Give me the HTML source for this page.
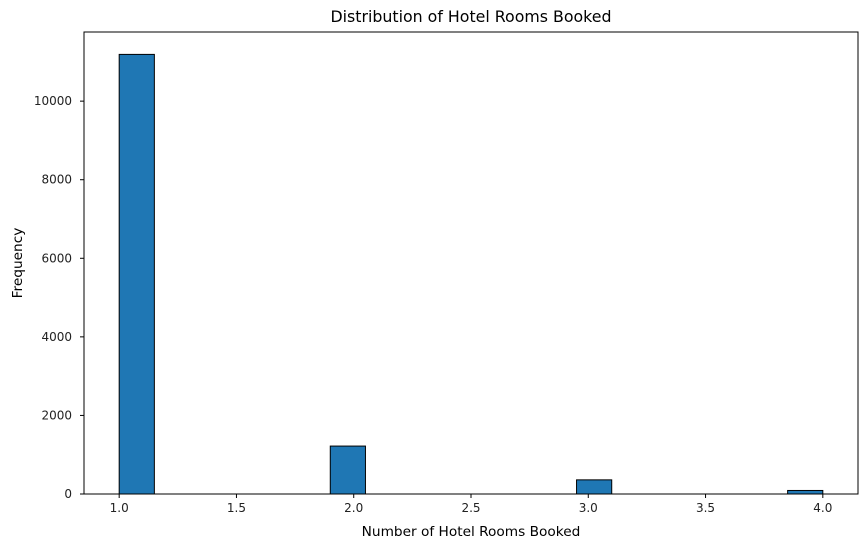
<!DOCTYPE html>
<html><head><meta charset="utf-8"><style>
html,body{margin:0;padding:0;background:#fff;}
svg{display:block;font-family:"DejaVu Sans","Liberation Sans",sans-serif;}
</style></head><body>
<svg id="chart" width="868" height="547"></svg>
<script>
const binEdgesStart = [1.0, 1.9, 2.95, 3.85];
const binWidth = 0.15;
const counts = [11190, 1220, 360, 90];
const xTicks = [1.0, 1.5, 2.0, 2.5, 3.0, 3.5, 4.0];
const yTicks = [0, 2000, 4000, 6000, 8000, 10000];

const L = 84, R = 858, T = 32, B = 494;
const xMin = 0.85, xMax = 4.15, yMax = 11760;
const sx = v => L + (v - xMin) / (xMax - xMin) * (R - L);
const sy = v => B - v / yMax * (B - T);
const svg = document.getElementById('chart');
const NS = 'http://www.w3.org/2000/svg';
function mk(tag, attrs, text) {
  const e = document.createElementNS(NS, tag);
  for (const k in attrs) e.setAttribute(k, attrs[k]);
  if (text !== undefined) e.textContent = text;
  svg.appendChild(e);
  return e;
}
counts.forEach((c, i) => {
  const x0 = sx(binEdgesStart[i]), x1 = sx(binEdgesStart[i] + binWidth);
  const r = mk('rect', {x: x0, y: sy(c), width: x1 - x0, height: B - sy(c), fill: '#1f77b4', stroke: '#000', 'stroke-width': 1});
  
  
});
xTicks.forEach(t => {
  const x = sx(t);
  const l = mk('line', {x1: x, x2: x, y1: B, y2: B + 4, stroke: '#000', 'stroke-width': 1});
  
  
  const tx = mk('text', {x: x, y: B + 18, 'text-anchor': 'middle', 'font-size': 12, fill: '#222'}, t.toFixed(1));
  
  
});
yTicks.forEach(t => {
  const y = sy(t);
  const l = mk('line', {x1: L - 4, x2: L, y1: y, y2: y, stroke: '#000', 'stroke-width': 1});
  
  
  const tx = mk('text', {x: L - 12, y: y + 4, 'text-anchor': 'end', 'font-size': 12, fill: '#222'}, String(t));
  
  
});
const frame = mk('rect', {x: L, y: T, width: R - L, height: B - T, fill: 'none', stroke: '#000', 'stroke-width': 1});


const title = mk('text', {x: (L + R) / 2, y: 22, 'text-anchor': 'middle', 'font-size': 15.8, fill: '#000'}, 'Distribution of Hotel Rooms Booked');


const xl = mk('text', {x: (L + R) / 2, y: 536, 'text-anchor': 'middle', 'font-size': 13.7, fill: '#000'}, 'Number of Hotel Rooms Booked');


const yl = mk('text', {x: 0, y: 0, 'text-anchor': 'middle', 'font-size': 13.7, fill: '#000', transform: 'translate(22,' + ((T + B) / 2) + ') rotate(-90)'}, 'Frequency');


</script>
</body></html>
